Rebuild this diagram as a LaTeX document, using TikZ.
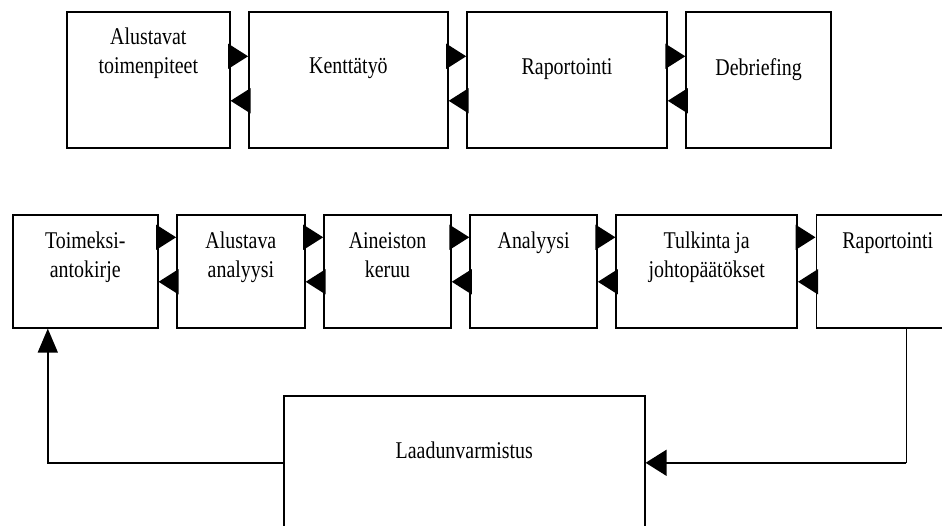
\documentclass[tikz,border=0pt]{standalone}
\usepackage{fontspec}
\setmainfont{Liberation Serif}[FakeStretch=0.83]
\usetikzlibrary{arrows.meta, positioning}
\tikzset{
  box/.style={rectangle, draw, line width=1.6pt, inner sep=0pt},
  txt/.style={anchor=north, inner sep=0pt, align=center, font=\fontsize{24}{29}\selectfont},
  flow/.style={-{Triangle[length=20pt, width=25pt]}, line width=1.5pt},
}

\begin{document}
\begin{tikzpicture}[x=1pt, y=-1pt, node distance=17.5pt]
    \useasboundingbox (0,0) rectangle (942,526);
    \clip (0,0) rectangle (942,526);
    % upper chain
    \node[box, minimum width=163pt, minimum height=136pt, anchor=north west,
      label={[txt, yshift=-17pt]north:Alustavat\\toimenpiteet}] (alku) at (66,11) {};
    \node[box, minimum width=199pt, minimum height=136pt, right=of alku,
      label={[txt, yshift=-47pt]north:Kenttätyö}] (kentta) {};
    \node[box, minimum width=200pt, minimum height=136pt, right=of kentta,
      label={[txt, yshift=-47pt]north:Raportointi}] (rap) {};
    \node[box, minimum width=145pt, minimum height=136pt, right=of rap,
      label={[txt, yshift=-47pt]north:Debriefing}] (debrief) {};
    % lower chain
    \node[box, minimum width=145pt, minimum height=113pt, anchor=north west,
      label={[txt, yshift=-18pt]north:Toimeksi-\\antokirje}] (toim) at (12,214) {};
    \node[box, minimum width=128pt, minimum height=113pt, right=of toim,
      label={[txt, yshift=-18pt]north:Alustava\\analyysi}] (alanal) {};
    \node[box, minimum width=127pt, minimum height=113pt, right=of alanal,
      label={[txt, yshift=-18pt]north:Aineiston\\keruu}] (keruu) {};
    \node[box, minimum width=127pt, minimum height=113pt, right=of keruu,
      label={[txt, yshift=-18pt]north:Analyysi}] (analyysi) {};
    \node[box, minimum width=181pt, minimum height=113pt, right=of analyysi,
      label={[txt, yshift=-18pt]north:Tulkinta ja\\johtopäätökset}] (tulkinta) {};
    \node[box, minimum width=143pt, minimum height=113pt, right=of tulkinta,
      label={[txt, yshift=-18pt]north:Raportointi}] (raport) {};
    \node[box, minimum width=361pt, minimum height=134pt, anchor=north west,
      label={[txt, yshift=-47pt]north:Laadunvarmistus}] (laatu) at (283,395) {};
    % arrows, upper chain
    \draw[flow] ([yshift=23.5pt]alku.east) -- ([yshift=23.5pt]kentta.west);
    \draw[flow] ([yshift=-21pt]kentta.west) -- ([yshift=-21pt]alku.east);
    \draw[flow] ([yshift=23.5pt]kentta.east) -- ([yshift=23.5pt]rap.west);
    \draw[flow] ([yshift=-21pt]rap.west) -- ([yshift=-21pt]kentta.east);
    \draw[flow] ([yshift=23.5pt]rap.east) -- ([yshift=23.5pt]debrief.west);
    \draw[flow] ([yshift=-21pt]debrief.west) -- ([yshift=-21pt]rap.east);
    % arrows, lower chain
    \draw[flow] ([yshift=34pt]toim.east) -- ([yshift=34pt]alanal.west);
    \draw[flow] ([yshift=-10.5pt]alanal.west) -- ([yshift=-10.5pt]toim.east);
    \draw[flow] ([yshift=34pt]alanal.east) -- ([yshift=34pt]keruu.west);
    \draw[flow] ([yshift=-10.5pt]keruu.west) -- ([yshift=-10.5pt]alanal.east);
    \draw[flow] ([yshift=34pt]keruu.east) -- ([yshift=34pt]analyysi.west);
    \draw[flow] ([yshift=-10.5pt]analyysi.west) -- ([yshift=-10.5pt]keruu.east);
    \draw[flow] ([yshift=34pt]analyysi.east) -- ([yshift=34pt]tulkinta.west);
    \draw[flow] ([yshift=-10.5pt]tulkinta.west) -- ([yshift=-10.5pt]analyysi.east);
    \draw[flow] ([yshift=34pt]tulkinta.east) -- ([yshift=34pt]raport.west);
    \draw[flow] ([yshift=-10.5pt]raport.west) -- ([yshift=-10.5pt]tulkinta.east);
    % quality loop
    \coordinate (kulma) at ([xshift=18.5pt]raport.south |- laatu.east);
    \draw[line width=1pt] ([xshift=18.5pt]raport.south) -- (kulma);
    \draw[line width=1.5pt, -{Triangle[length=21pt, width=26pt]}] (kulma) -- (laatu.east);
    \draw[line width=1.5pt, -{Triangle[length=24pt, width=20pt]}] (laatu.west) -| ([xshift=-37.5pt]toim.south);
  \end{tikzpicture}
\end{document}
